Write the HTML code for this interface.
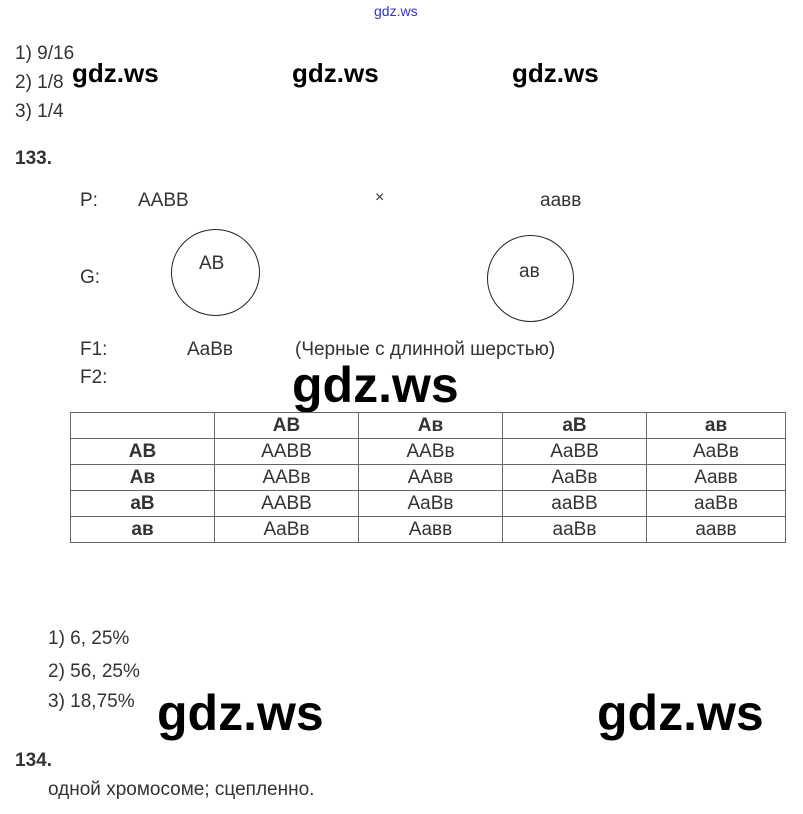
<!DOCTYPE html>
<html><head><meta charset="utf-8"><style>
body{margin:0;width:803px;height:814px;background:#fff;position:relative;overflow:hidden;font-family:"Liberation Sans",Arial,sans-serif;color:#333}
.t{position:absolute;font-size:19px;white-space:nowrap;line-height:1}
.w{position:absolute;font-family:"Liberation Sans",sans-serif;color:#000;font-weight:bold;white-space:nowrap;line-height:1}
.c{position:absolute;border:1.5px solid #222;border-radius:50%}
table{position:absolute;left:70px;top:412px;border-collapse:collapse;font-size:19px;color:#333}
td{border:1px solid #666;height:25px;padding:0;text-align:center;line-height:25px}
td.b{font-weight:bold}
</style></head><body>
<div class="t" style="left:374px;top:4px;font-size:14px;color:#3333cc">gdz.ws</div>
<div class="t" style="left:15px;top:44px">1) 9/16</div>
<div class="t" style="left:15px;top:73px">2) 1/8</div>
<div class="t" style="left:15px;top:102px">3) 1/4</div>
<div class="w" style="left:72px;top:60px;font-size:26px">gdz.ws</div>
<div class="w" style="left:292px;top:60px;font-size:26px">gdz.ws</div>
<div class="w" style="left:512px;top:60px;font-size:26px">gdz.ws</div>
<div class="t" style="left:15px;top:149px;font-weight:bold">133.</div>
<div class="t" style="left:80px;top:191px">P:</div>
<div class="t" style="left:138px;top:191px">AABB</div>
<div class="t" style="left:375px;top:190px;font-size:16px">×</div>
<div class="t" style="left:540px;top:191px">aaвв</div>
<div class="c" style="left:171px;top:229px;width:87px;height:85px"></div>
<div class="t" style="left:199px;top:254px">AB</div>
<div class="c" style="left:487px;top:235px;width:85px;height:85px"></div>
<div class="t" style="left:519px;top:262px">aв</div>
<div class="t" style="left:80px;top:268px">G:</div>
<div class="t" style="left:80px;top:340px">F1:</div>
<div class="t" style="left:187px;top:340px">AaBв</div>
<div class="t" style="left:295px;top:340px">(Черные с длинной шерстью)</div>
<div class="t" style="left:80px;top:368px">F2:</div>
<div class="w" style="left:292px;top:360px;font-size:50px">gdz.ws</div>
<table>
<tr><td style="width:143px"></td><td class="b" style="width:143px">AB</td><td class="b" style="width:143px">Aв</td><td class="b" style="width:143px">aB</td><td class="b" style="width:138px">aв</td></tr>
<tr><td class="b">AB</td><td>AABB</td><td>AABв</td><td>AaBB</td><td>AaBв</td></tr>
<tr><td class="b">Aв</td><td>AABв</td><td>AAвв</td><td>AaBв</td><td>Aaвв</td></tr>
<tr><td class="b">aB</td><td>AABB</td><td>AaBв</td><td>aaBB</td><td>aaBв</td></tr>
<tr><td class="b">aв</td><td>AaBв</td><td>Aaвв</td><td>aaBв</td><td>aaвв</td></tr>
</table>
<div class="t" style="left:48px;top:629px">1) 6, 25%</div>
<div class="t" style="left:48px;top:662px">2) 56, 25%</div>
<div class="t" style="left:48px;top:692px">3) 18,75%</div>
<div class="w" style="left:157px;top:688px;font-size:50px">gdz.ws</div>
<div class="w" style="left:597px;top:688px;font-size:50px">gdz.ws</div>
<div class="t" style="left:15px;top:751px;font-weight:bold">134.</div>
<div class="t" style="left:48px;top:780px">одной хромосоме; сцепленно.</div>
</body></html>
